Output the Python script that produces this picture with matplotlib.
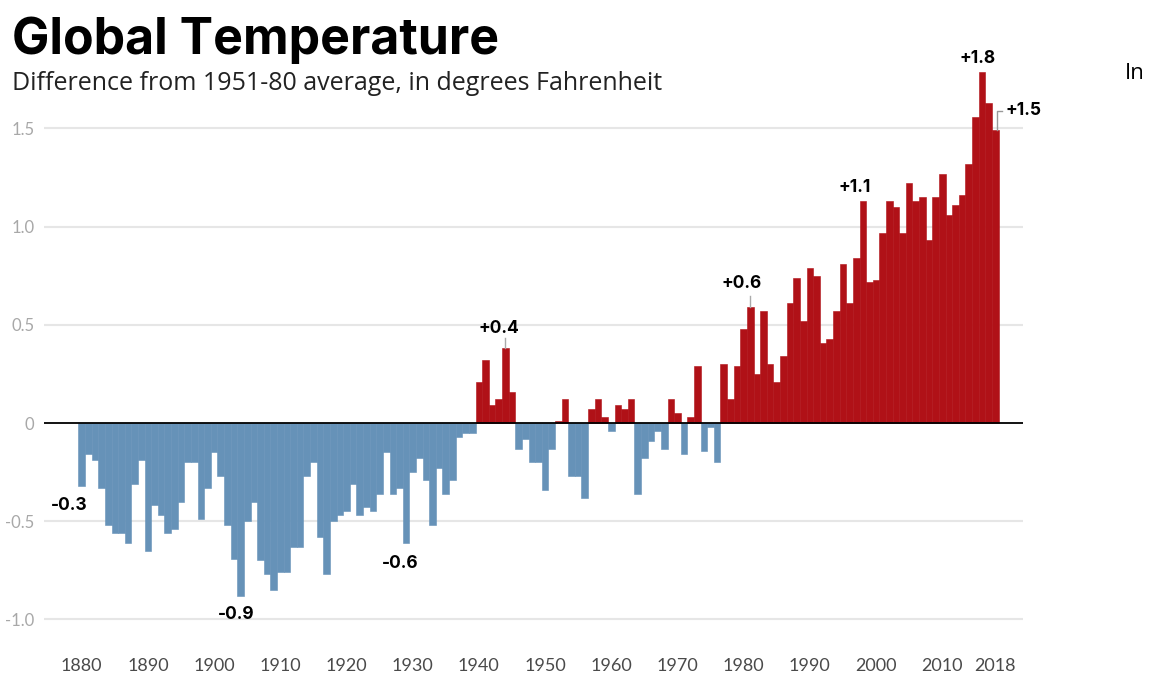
import matplotlib
matplotlib.use("Agg")
import matplotlib.pyplot as plt
import numpy as np

# 1951-80 평균 대비 편차 (화씨), 1880-2018
years = np.arange(1880, 2019)
anomaly = [
    -0.32, -0.16, -0.19, -0.33, -0.52, -0.56, -0.56, -0.61, -0.31, -0.19,  # 1880s
    -0.65, -0.42, -0.47, -0.56, -0.54, -0.40, -0.20, -0.20, -0.49, -0.33,  # 1890s
    -0.15, -0.27, -0.52, -0.69, -0.88, -0.50, -0.40, -0.70, -0.77, -0.85,  # 1900s
    -0.76, -0.76, -0.63, -0.63, -0.27, -0.20, -0.58, -0.77, -0.50, -0.47,  # 1910s
    -0.45, -0.31, -0.47, -0.43, -0.45, -0.36, -0.15, -0.36, -0.33, -0.61,  # 1920s
    -0.25, -0.18, -0.29, -0.52, -0.23, -0.36, -0.29, -0.07, -0.05, -0.05,  # 1930s
    0.21, 0.32, 0.09, 0.12, 0.38, 0.16, -0.13, -0.08, -0.20, -0.20,        # 1940s
    -0.34, -0.13, 0.01, 0.12, -0.27, -0.27, -0.38, 0.07, 0.12, 0.03,       # 1950s
    -0.04, 0.09, 0.07, 0.12, -0.36, -0.18, -0.09, -0.04, -0.13, 0.12,      # 1960s
    0.05, -0.16, 0.03, 0.29, -0.14, -0.02, -0.20, 0.30, 0.12, 0.29,        # 1970s
    0.48, 0.59, 0.25, 0.57, 0.30, 0.21, 0.34, 0.61, 0.74, 0.52,            # 1980s
    0.79, 0.75, 0.41, 0.43, 0.57, 0.81, 0.61, 0.84, 1.13, 0.72,            # 1990s
    0.73, 0.97, 1.13, 1.10, 0.97, 1.22, 1.13, 1.15, 0.93, 1.15,            # 2000s
    1.27, 1.06, 1.11, 1.16, 1.32, 1.56, 1.79, 1.63, 1.49,                  # 2010s
]
anomaly = np.array(anomaly)

# 라벨 붙는 연도
callout_years = [1880, 1904, 1929, 1944, 1981, 1998, 2016, 2018]
callout_text = ["-0.3", "-0.9", "-0.6", "+0.4", "+0.6", "+1.1", "+1.8", "+1.5"]

ytick_vals = [-1.0, -0.5, 0, 0.5, 1.0, 1.5]
ytick_text = ["-1.0", "-0.5", "0", "0.5", "1.0", "1.5"]
xtick_years = [1880, 1890, 1900, 1910, 1920, 1930, 1940, 1950, 1960, 1970,
               1980, 1990, 2000, 2010, 2018]

BLUE = "#6692b8"
RED = "#b01117"

plt.rcParams["font.family"] = ["Lato", "DejaVu Sans"]

fig = plt.figure(figsize=(11.56, 6.77), dpi=100)
ax = fig.add_axes([44 / 1156, 37 / 677, 979 / 1156, 595 / 677])

colors = [RED if v > 0 else BLUE for v in anomaly]
ax.bar(years, anomaly, width=1.0, color=colors, edgecolor=colors,
       linewidth=0.4, zorder=2)

ax.set_xlim(1874.3, 2022.2)
ax.set_ylim(-1.105, 1.925)

# 격자선
for v in ytick_vals:
    if v != 0:
        ax.axhline(v, color="#e6e6e6", lw=1.5, zorder=1)
ax.axhline(0, color="black", lw=1.3, zorder=3)

ax.set_yticks(ytick_vals)
ax.set_yticklabels(ytick_text)
ax.set_xticks(xtick_years)
ax.set_xticklabels([str(y) for y in xtick_years])
ax.tick_params(axis="y", length=0, pad=7, labelsize=12, labelcolor="#a8a8a8")
ax.tick_params(axis="x", length=0, pad=13, labelsize=13, labelcolor="#4a4a4a")
for s in ax.spines.values():
    s.set_visible(False)

# 주석
lab = dict(fontsize=12.5, fontweight="bold", family=["Inter", "DejaVu Sans"])
offsets = {1880: (-9, -14), 1904: (-3, -13.5), 1929: (-4, -15), 1944: (-5, 14),
           1981: (-6.5, 17), 1998: (-5.5, 9.5), 2016: (-3.5, 9.5)}
for yr, txt in zip(callout_years, callout_text):
    v = anomaly[yr - 1880]
    if yr == 2018:
        ax.plot([yr + 0.3, yr + 0.3, yr + 1.1], [v, v + 0.1, v + 0.1],
                color="#999999", lw=1, zorder=3)
        ax.text(yr + 1.6, v + 0.1, txt, va="center", ha="left", **lab)
        continue
    dx, dy = offsets[yr]
    ax.annotate(txt, (yr, v), xytext=(dx, dy), textcoords="offset points",
                ha="center", va="center", **lab)
    if yr in (1944, 1981):
        ax.plot([yr, yr], [v, v + 0.055], color="#aaaaaa", lw=1, zorder=3)

fig.text(12 / 1156, 1 - 54 / 677, "Global Temperature", fontsize=36,
         fontweight="bold", family=["Inter", "DejaVu Sans"],
         va="baseline", ha="left")
fig.text(12 / 1156, 1 - 90 / 677,
         "Difference from 1951-80 average, in degrees Fahrenheit",
         fontsize=18, family=["Open Sans", "DejaVu Sans"],
         va="baseline", ha="left", color="#222222")
fig.text(1125 / 1156, 1 - 79 / 677, "In", fontsize=16, va="baseline",
         ha="left", family=["Open Sans", "DejaVu Sans"])

fig.savefig("out.png", dpi=100)
